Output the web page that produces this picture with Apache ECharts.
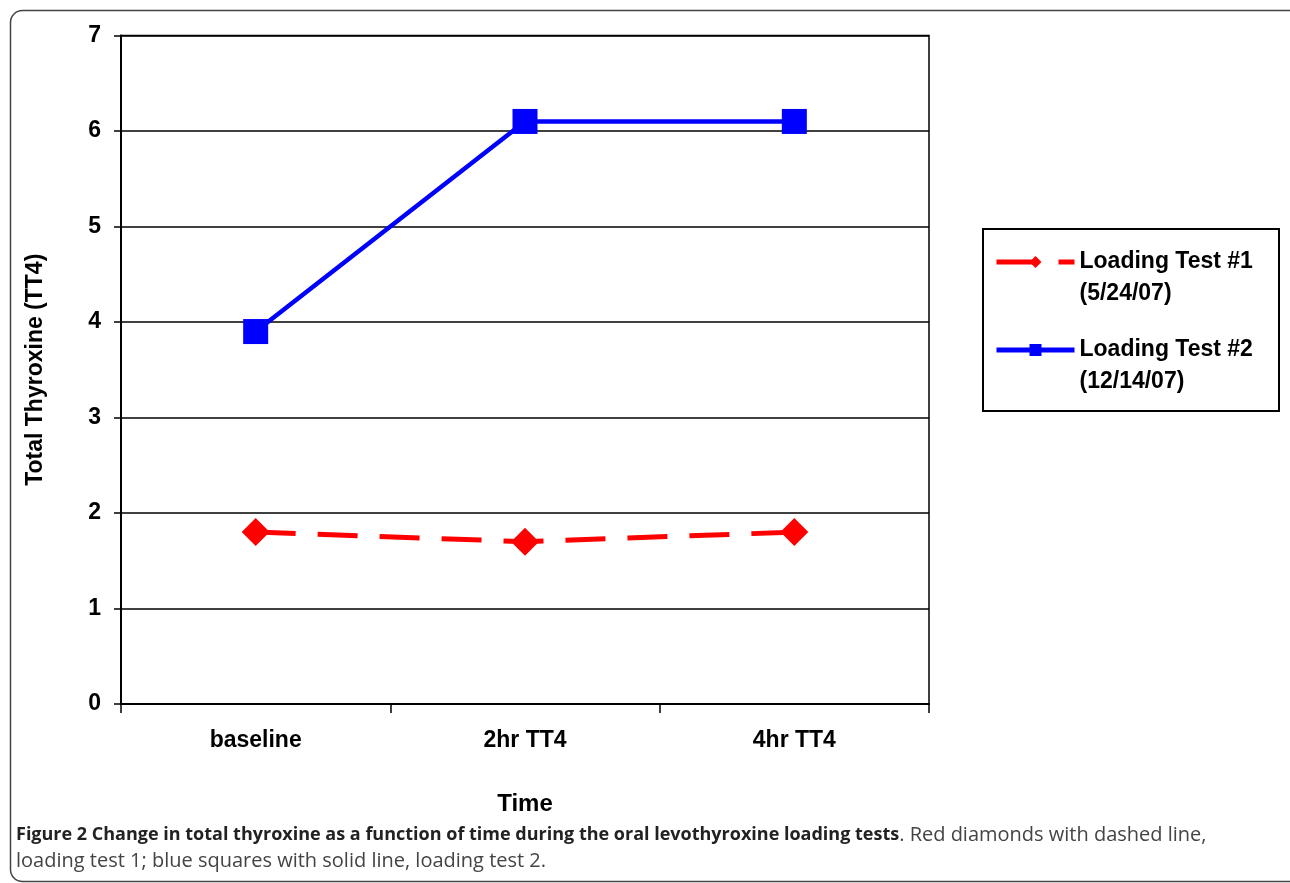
<!DOCTYPE html>
<html>
<head>
<meta charset="utf-8">
<script src="https://cdn.jsdelivr.net/npm/echarts@6/dist/echarts.min.js"></script>
<style>
html,body{margin:0;padding:0;background:#fff;}
#chart{width:1290px;height:883px;}
</style>
</head>
<body>
<div id="chart"></div>
<script>
const categories = ['baseline', '2hr TT4', '4hr TT4'];
const test1Values = [1.8, 1.7, 1.8];
const test2Values = [3.9, 6.1, 6.1];
const seriesNames = ['Loading Test #1\n(5/24/07)', 'Loading Test #2\n(12/14/07)'];
const yTicks = {min: 0, max: 7, interval: 1};

const FONT = '"Liberation Sans", Arial, sans-serif';
const chart = echarts.init(document.getElementById('chart'), null, {renderer: 'canvas'});

chart.setOption({
  backgroundColor: '#fff',
  animation: false,
  grid: {
    left: 121, right: 361, top: 35.5, bottom: 179,
    show: true, borderColor: '#000', borderWidth: 1.5, backgroundColor: 'transparent'
  },
  xAxis: {
    type: 'category',
    data: categories,
    boundaryGap: true,
    axisLine: {lineStyle: {color: '#000', width: 2}},
    axisTick: {show: true, length: 9, interval: 0, lineStyle: {color: '#000', width: 1.5}},
    axisLabel: {color: '#000', fontFamily: FONT, fontWeight: 'bold', fontSize: 23, margin: 25, interval: 0},
    name: 'Time',
    nameLocation: 'middle',
    nameGap: 88,
    nameTextStyle: {color: '#000', fontFamily: FONT, fontWeight: 'bold', fontSize: 24}
  },
  yAxis: {
    type: 'value',
    min: yTicks.min, max: yTicks.max, interval: yTicks.interval,
    axisLine: {show: true, lineStyle: {color: '#000', width: 2}},
    axisTick: {show: true, length: 7, lineStyle: {color: '#000', width: 1.5}},
    splitLine: {show: true, lineStyle: {color: '#000', width: 1.5}},
    axisLabel: {color: '#000', fontFamily: FONT, fontWeight: 'bold', fontSize: 23, margin: 20},
    name: 'Total Thyroxine (TT4)',
    nameLocation: 'middle',
    nameGap: 74,
    nameTextStyle: {color: '#000', fontFamily: FONT, fontWeight: 'bold', fontSize: 23}
  },
  legend: {
    orient: 'vertical',
    left: 994,
    top: 214,
    padding: 0,
    itemWidth: 78,
    itemHeight: 15,
    itemGap: -8,
    data: seriesNames,
    formatter: function (name) { return '\n' + name; },
    lineStyle: {width: 5},
    textStyle: {color: '#000', fontFamily: FONT, fontWeight: 'bold', fontSize: 23, lineHeight: 32}
  },
  series: [
    {
      name: seriesNames[0],
      type: 'line',
      data: test1Values,
      symbol: 'diamond',
      symbolSize: 28,
      itemStyle: {color: '#FF0000'},
      lineStyle: {color: '#FF0000', width: 5, type: [40, 22]},
      z: 3
    },
    {
      name: seriesNames[1],
      type: 'line',
      data: test2Values,
      symbol: 'rect',
      symbolSize: 25,
      itemStyle: {color: '#0000FF'},
      lineStyle: {color: '#0000FF', width: 4.5, type: 'solid'},
      z: 4
    }
  ],
  graphic: [
    {
      type: 'rect', z: -1,
      shape: {x: 10.5, y: 10.5, width: 1310, height: 871, r: 12},
      style: {fill: 'none', stroke: '#444', lineWidth: 1.5}
    },
    {
      type: 'rect', z: 1,
      shape: {x: 983, y: 229, width: 296, height: 182},
      style: {fill: 'none', stroke: '#000', lineWidth: 2}
    },
    {
      type: 'text', left: 16, top: 825,
      style: {
        text: '{b|Figure 2 Change in total thyroxine as a function of time during the oral levothyroxine loading tests}{r|. Red diamonds with dashed line,}\n{r|loading test 1; blue squares with solid line, loading test 2.}',
        rich: {
          b: {fontFamily: '"Open Sans", sans-serif', fontWeight: 'bold', fontSize: 18, fill: '#222', lineHeight: 26},
          r: {fontFamily: '"Open Sans", sans-serif', fontWeight: 'normal', fontSize: 20, fill: '#444', lineHeight: 26}
        }
      }
    }
  ]
});
</script>
</body>
</html>
